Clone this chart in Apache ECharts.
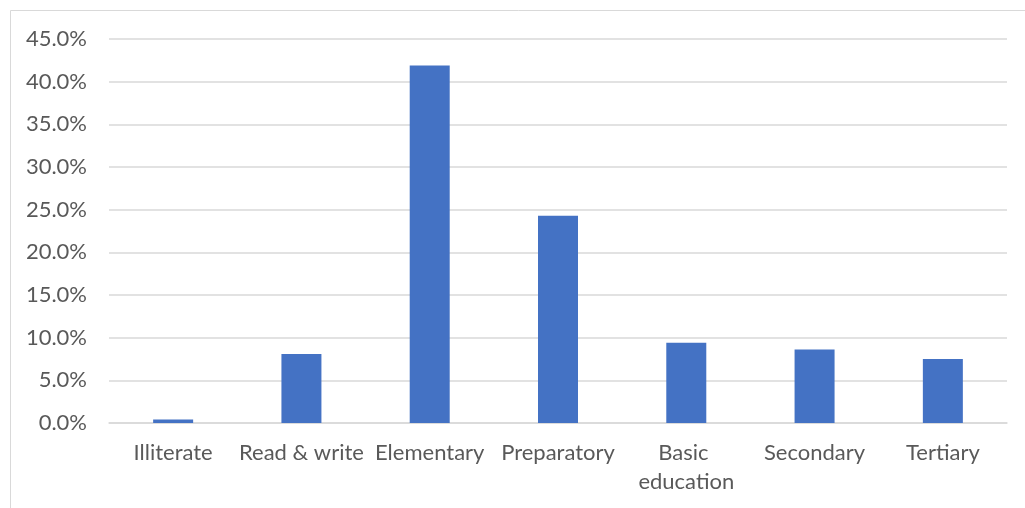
<!DOCTYPE html>
<html>
<head>
<meta charset="utf-8">
<script src="https://cdn.jsdelivr.net/npm/echarts@6/dist/echarts.min.js"></script>
<style>
  html, body { margin: 0; padding: 0; background: #ffffff; }
  #chart { width: 1025px; height: 508px; }
</style>
</head>
<body>
<div id="chart"></div>
<script>
// Education level shares (percent)
const categories = ['Illiterate', 'Read & write', 'Elementary', 'Preparatory', 'Basic education', 'Secondary', 'Tertiary'];
const shares = [0.4, 8.1, 41.9, 24.3, 9.4, 8.6, 7.5];
const yTicks = { min: 0, max: 45, interval: 5 };

const FONT = 'Lato';
const TEXT_COLOR = '#595959';
const GRID_COLOR = '#d9d9d9';

const chart = echarts.init(document.getElementById('chart'), null, { renderer: 'canvas' });

chart.setOption({
  animation: false,
  backgroundColor: '#ffffff',
  graphic: [{
    type: 'rect',
    shape: { x: 10.5, y: 10.5, width: 1200, height: 700 },
    style: { fill: 'none', stroke: GRID_COLOR, lineWidth: 1 },
    silent: true,
    z: -1
  }],
  grid: { left: 109, right: 18, top: 39, bottom: 85, containLabel: false },
  xAxis: {
    type: 'category',
    data: categories,
    axisTick: { show: false },
    axisLine: { show: true, lineStyle: { color: GRID_COLOR, width: 1.5 } },
    axisLabel: {
      color: TEXT_COLOR,
      fontFamily: FONT,
      fontSize: 22,
      margin: 15,
      lineHeight: 29,
      interval: 0,
      width: 128,
      overflow: 'break'
    }
  },
  yAxis: {
    type: 'value',
    min: yTicks.min,
    max: yTicks.max,
    interval: yTicks.interval,
    axisLine: { show: false },
    axisTick: { show: false },
    splitLine: { lineStyle: { color: GRID_COLOR, width: 1.5 } },
    axisLabel: {
      color: TEXT_COLOR,
      fontFamily: FONT,
      fontSize: 22,
      margin: 22,
      formatter: v => v.toFixed(1) + '%'
    }
  },
  series: [{
    type: 'bar',
    data: shares,
    barWidth: 40,
    itemStyle: { color: '#4472C4' }
  }]
});
</script>
</body>
</html>
